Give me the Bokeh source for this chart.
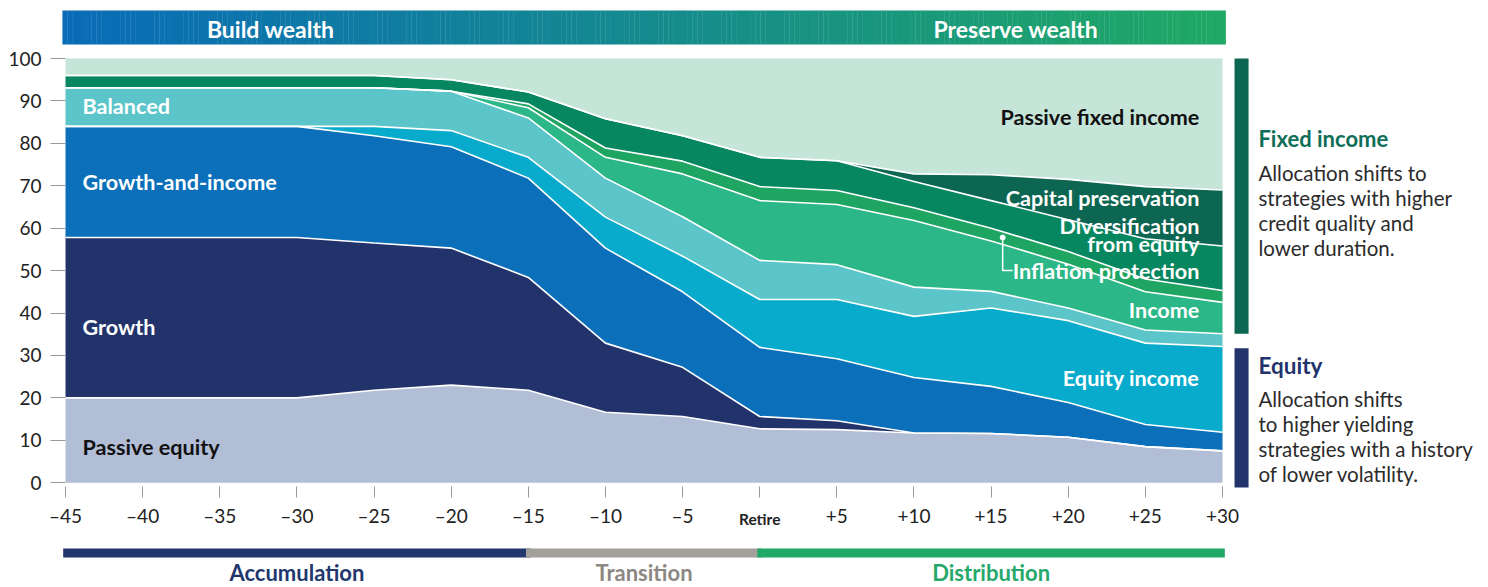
import numpy as np
from bokeh.plotting import figure
from bokeh.models import Range1d, FixedTicker, ColumnDataSource
from bokeh.embed import file_html
from bokeh.resources import INLINE
from bokeh.core.properties import value

FONT = "Lato"

# ---------------- data ----------------
years = [-45, -40, -35, -30, -25, -20, -15, -10, -5, 0, 5, 10, 15, 20, 25, 30]
year_labels = ["\u201345", "\u201340", "\u201335", "\u201330", "\u201325", "\u201320", "\u201315",
               "\u201310", "\u20135", "Retire", "+5", "+10", "+15", "+20", "+25", "+30"]
y_ticks = [0, 10, 20, 30, 40, 50, 60, 70, 80, 90, 100]

passive_equity = [20, 20, 20, 20, 21.8, 23, 21.8, 16.6, 15.6, 12.7, 12.5, 11.7, 11.6, 10.7, 8.5, 7.5]
growth = [37.8, 37.8, 37.8, 37.8, 34.7, 32.3, 26.6, 16.3, 11.6, 2.9, 2.1, 0, 0, 0, 0, 0]
growth_and_income = [26.2, 26.2, 26.2, 26.2, 25.3, 23.9, 23.4, 22.4, 17.8, 16.3, 14.6, 13.1, 11.1, 8.2, 5.2, 4.4]
equity_income = [0, 0, 0, 0, 2.2, 3.8, 4.9, 7.3, 8.4, 11.3, 14.0, 14.4, 18.5, 19.3, 19.2, 20.2]
balanced = [9.1, 9.1, 9.1, 9.1, 9.1, 9.3, 9.3, 9.2, 9.3, 9.2, 8.2, 6.9, 3.9, 3.0, 3.1, 3.0]
income = [0, 0, 0, 0, 0, 0, 2.4, 4.9, 10.1, 14.1, 14.2, 15.7, 11.9, 10.3, 9.0, 7.4]
inflation_protection = [0, 0, 0, 0, 0, 0, 0.9, 2.2, 3.0, 3.3, 3.3, 3.0, 3.0, 3.0, 3.0, 2.8]
diversification_from_equity = [2.9, 2.9, 2.9, 2.9, 2.9, 2.7, 2.8, 6.9, 6.0, 6.9, 7.0, 6.2, 6.5, 7.5, 9.5, 10.5]
capital_preservation = [0, 0, 0, 0, 0, 0, 0, 0, 0, 0, 0, 1.8, 6.1, 9.5, 12.3, 13.2]
passive_fixed_income = [4, 4, 4, 4, 4, 5, 7.9, 14.2, 18.2, 23.3, 24.1, 27.2, 27.4, 28.5, 30.2, 31.0]

phase_names = ["Accumulation", "Transition", "Distribution"]
phase_start = [-45, -15, 0]
phase_end = [-15, 0, 30]

banner_names = ["Build wealth", "Preserve wealth"]

# ---------------- styling ----------------
names = ["passive_equity", "growth", "growth_and_income", "equity_income", "balanced", "income",
         "inflation_protection", "diversification_from_equity", "capital_preservation", "passive_fixed_income"]
layers = [passive_equity, growth, growth_and_income, equity_income, balanced, income,
          inflation_protection, diversification_from_equity, capital_preservation, passive_fixed_income]
colors = ["#b2bed6", "#22336b", "#0b6fb9", "#08abcb", "#5bc5ca", "#2bb787",
          "#1fa562", "#078760", "#0c6651", "#c5e5d8"]

data = {"x": years}
for n, l in zip(names, layers):
    data[n] = l
source = ColumnDataSource(data)

W = 1480
H = 587
LEFT = 65           # page column of the -45 tick
TOP = 8
PX_YR = 1157 / 75
PX_PCT = 4.2417
X_START = -45 - LEFT / PX_YR
X_END = X_START + W / PX_YR
Y_END = 111.79
Y_START = Y_END - (H - TOP) / PX_PCT


def yv(page_y):
    """page pixel row -> value on the y scale (for placing annotations)"""
    return Y_END - (page_y - TOP) / PX_PCT


p = figure(width=W, height=H, x_range=Range1d(X_START, X_END), y_range=Range1d(Y_START, Y_END),
           output_backend="svg", toolbar_location=None,
           min_border_left=0, min_border_right=0, min_border_top=TOP, min_border_bottom=0)
p.outline_line_color = None
p.xgrid.grid_line_color = None
p.ygrid.grid_line_color = None
p.background_fill_color = "white"

p.varea_stack(stackers=names, x="x", color=colors, source=source)

cum = np.cumsum(np.array(layers, dtype=float), axis=0)
for i in range(len(layers) - 1):
    p.line(years, cum[i], line_color="white", line_width=1.6)

# axes (drawn at fixed positions inside the frame)
p.xaxis.fixed_location = -0.9
p.yaxis.fixed_location = years[0]
p.xaxis.ticker = FixedTicker(ticks=years)
p.xaxis.major_label_overrides = {y: ("" if lab == "Retire" else lab) for y, lab in zip(years, year_labels)}
p.yaxis.ticker = FixedTicker(ticks=y_ticks)
for ax in (p.xaxis, p.yaxis):
    ax.axis_line_color = None
    ax.minor_tick_line_color = None
    ax.major_tick_line_color = "#9a9a9a"
    ax.major_tick_line_width = 1
    ax.major_tick_in = 0
    ax.major_label_text_font = FONT
    ax.major_label_text_font_size = "19px"
    ax.major_label_text_color = "#222222"
p.xaxis.major_tick_out = 11
p.xaxis.major_label_standoff = 7
p.yaxis.major_tick_out = 15
p.yaxis.major_label_standoff = 9

# bold "Retire" tick label
p.text(x=[years[year_labels.index("Retire")]], y=[yv(518)], text=["Retire"], text_color="#222222",
       text_font=value(FONT), text_font_style="bold", text_font_size="15.5px",
       text_align="center", text_baseline="middle")

# banner gradient
nb = 240
edges = np.linspace(-45.2, 30.2, nb + 1)
c0 = np.array([0x0a, 0x6c, 0xb8])
c1 = np.array([0x20, 0xa9, 0x65])
grad = ["#%02x%02x%02x" % tuple((c0 + (c1 - c0) * t).astype(int)) for t in np.linspace(0, 1, nb)]
p.quad(left=edges[:-1], right=edges[1:] + 0.02, bottom=yv(44), top=yv(10), color=grad, line_color=None)
p.text(x=[-31.7, 16.6], y=[yv(28)] * 2, text=banner_names, text_color="white",
       text_font=value(FONT), text_font_style="bold", text_font_size="23px",
       text_align="center", text_baseline="middle")

LAB = "21.6px"
# in-chart labels
p.text(x=[-43.9, -43.9, -43.9], y=[88.7, 70.8, 36.8],
       text=["Balanced", "Growth-and-income", "Growth"], text_color="white",
       text_font=value(FONT), text_font_style="bold", text_font_size=LAB,
       text_align="left", text_baseline="middle")
p.text(x=[-43.9], y=[8.3], text=["Passive equity"], text_color="#111111",
       text_font=value(FONT), text_font_style="bold", text_font_size=LAB,
       text_align="left", text_baseline="middle")
p.text(x=[28.5], y=[86.3], text=["Passive fixed income"], text_color="#111111",
       text_font=value(FONT), text_font_style="bold", text_font_size=LAB,
       text_align="right", text_baseline="middle")
p.text(x=[28.5] * 6, y=[67.0, 60.6, 56.2, 50.0, 40.8, 24.6],
       text=["Capital preservation", "Diversification", "from equity", "Inflation protection",
             "Income", "Equity income"], text_color="white",
       text_font=value(FONT), text_font_style="bold", text_font_size=LAB,
       text_align="right", text_baseline="middle")
# leader for inflation protection
p.line(x=[15.75, 15.75, 16.4], y=[57.8, 50.0, 50.0], line_color="white", line_width=1.5)
p.scatter(x=[15.75], y=[57.8], size=5, color="white")

# side brackets derived from the +30 allocation
eq_top = cum[3][-1]
fi_bottom = cum[4][-1]
p.quad(left=[30.78], right=[31.69], bottom=[fi_bottom], top=[100], color="#0c6651", line_color=None)
p.quad(left=[30.78], right=[31.69], bottom=[yv(487)], top=[eq_top - 0.4], color="#22336b", line_color=None)

p.text(x=[32.33], y=[yv(138)], text=["Fixed income"], text_color="#0f6e57",
       text_font=value(FONT), text_font_style="bold", text_font_size="22px",
       text_align="left", text_baseline="middle")
p.text(x=[32.33] * 4, y=[yv(172), yv(197), yv(222), yv(247)],
       text=["Allocation shifts to", "strategies with higher", "credit quality and", "lower duration."],
       text_color="#2b2b2b", text_font=value(FONT), text_font_size="20.5px",
       text_align="left", text_baseline="middle")
p.text(x=[32.33], y=[yv(365)], text=["Equity"], text_color="#22336b",
       text_font=value(FONT), text_font_style="bold", text_font_size="22.5px",
       text_align="left", text_baseline="middle")
p.text(x=[32.33] * 4, y=[yv(398), yv(423), yv(448), yv(473)],
       text=["Allocation shifts", "to higher  yielding", "strategies with a history", "of lower volatility."],
       text_color="#2b2b2b", text_font=value(FONT), text_font_size="20.5px",
       text_align="left", text_baseline="middle")

# ---------------- bottom phases ----------------
phase_bar_colors = ["#22376e", "#a39f9a", "#1fa866"]
phase_text_colors = ["#22376e", "#8c8782", "#25a86a"]
p.quad(left=[s - 0.15 for s in phase_start], right=[e + 0.15 for e in phase_end],
       top=yv(548), bottom=yv(557), color=phase_bar_colors, line_color=None)
mids = [(s + e) / 2 for s, e in zip(phase_start, phase_end)]
p.text(x=mids, y=[yv(558)] * 3, text=phase_names, text_color=phase_text_colors,
       text_font=value(FONT), text_font_style="bold", text_font_size="22px",
       text_align="center", text_baseline="top")

open("out.html", "w").write(file_html(p, INLINE))
